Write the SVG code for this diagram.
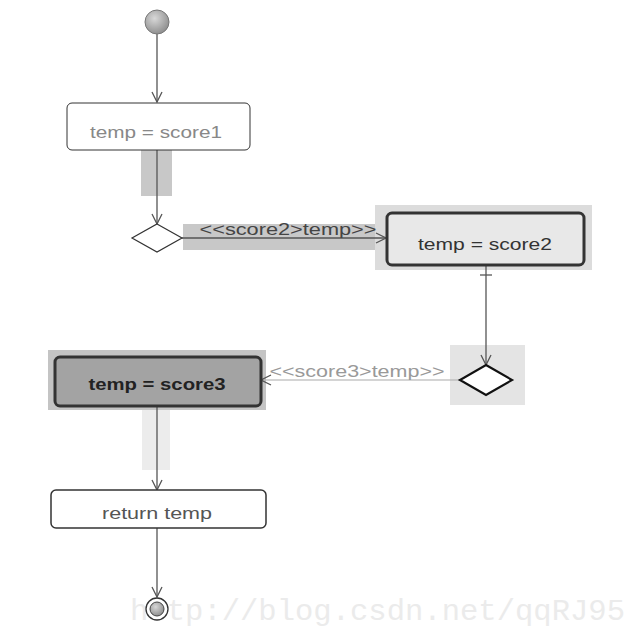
<svg xmlns="http://www.w3.org/2000/svg" width="640" height="640" viewBox="0 0 640 640">
<defs>
<radialGradient id="g1" cx="0.4" cy="0.35" r="0.7"><stop offset="0" stop-color="#d8d8d8"/><stop offset="1" stop-color="#8a8a8a"/></radialGradient>
<marker id="arr" viewBox="0 0 12 12" refX="11" refY="6" markerWidth="12" markerHeight="12" markerUnits="userSpaceOnUse" orient="auto"><path d="M1 1 L11 6 L1 11" fill="none" stroke="#555" stroke-width="1.3"/></marker>
</defs>
<style>
.box{stroke:#333;rx:5;ry:5}
.t{font-family:"Liberation Sans",Arial,sans-serif;font-size:16px;text-anchor:middle}
.ln{stroke:#555;stroke-width:1.3;fill:none}
.bg{fill:#c8c8c8}
</style>
<rect width="640" height="640" fill="#fff"/>
<text x="130" y="620" font-family="Liberation Mono,monospace" font-size="30" fill="#ebebeb" textLength="495" lengthAdjust="spacingAndGlyphs">http://blog.csdn.net/qqRJ95</text>
<g id="highlights">
<rect class="bg" x="141" y="150" width="31" height="46"/>
<rect class="bg" x="183" y="224" width="197" height="26"/>
<rect x="375" y="205" width="217" height="65" fill="#dcdcdc"/>
<rect x="450" y="345" width="75" height="60" fill="#e4e4e4"/>
<rect x="48" y="350" width="218" height="60" fill="#c4c4c4"/>
<rect x="142" y="410" width="28" height="60" fill="#ececec"/>
</g>
<g id="connectors">
<line class="ln" x1="157" y1="34" x2="157" y2="102" marker-end="url(#arr)"/>
<line class="ln" x1="157" y1="150" x2="157" y2="224" marker-end="url(#arr)"/>
<line class="ln" x1="182" y1="238" x2="386" y2="238" marker-end="url(#arr)"/>
<line class="ln" x1="486" y1="265" x2="486" y2="365" marker-end="url(#arr)"/>
<line class="ln" x1="480" y1="275" x2="492" y2="275"/>
<line x1="460" y1="380" x2="261" y2="380" stroke="#aaa" stroke-width="1.2" marker-end="url(#arr)"/>
<line class="ln" x1="157" y1="406" x2="157" y2="490" marker-end="url(#arr)"/>
<line class="ln" x1="157" y1="528" x2="157" y2="597" marker-end="url(#arr)"/>
<text class="t" x="288" y="235" font-size="14" fill="#444" textLength="177" lengthAdjust="spacingAndGlyphs">&lt;&lt;score2&gt;temp&gt;&gt;</text>
<text class="t" x="357" y="377" font-size="12" fill="#999" textLength="175" lengthAdjust="spacingAndGlyphs">&lt;&lt;score3&gt;temp&gt;&gt;</text>
</g>
<g id="start"><circle cx="157" cy="22" r="12" fill="url(#g1)" stroke="#777"/></g>
<g id="n1"><rect class="box" x="67" y="103" width="183" height="47" fill="#fff" stroke="#555"/><text class="t" x="156" y="138" fill="#888" textLength="132" lengthAdjust="spacingAndGlyphs">temp = score1</text></g>
<g id="d1"><polygon points="157,224 182,238 157,252 132,238" fill="#fff" stroke="#333" stroke-width="1.2"/></g>
<g id="n2"><rect class="box" x="387" y="213" width="197" height="52" fill="#e8e8e8" stroke-width="3"/><text class="t" x="485" y="250" fill="#333" textLength="134" lengthAdjust="spacingAndGlyphs">temp = score2</text></g>
<g id="d2"><polygon points="486,365 512,380 486,395 460,380" fill="#fff" stroke="#111" stroke-width="2.2"/></g>
<g id="n3"><rect class="box" x="55" y="357" width="206" height="49" fill="#a3a3a3" stroke="#111" stroke-width="3"/><text class="t" x="157" y="390" fill="#222" font-weight="bold" textLength="137" lengthAdjust="spacingAndGlyphs">temp = score3</text></g>
<g id="n4"><rect class="box" x="51" y="490" width="215" height="38" fill="#fff" stroke="#222" stroke-width="1.5"/><text class="t" x="157" y="519" fill="#555" textLength="110" lengthAdjust="spacingAndGlyphs">return temp</text></g>
<g id="end"><circle cx="157" cy="609" r="11" fill="#fff" stroke="#333" stroke-width="1.3"/><circle cx="157" cy="609" r="7" fill="url(#g1)" stroke="#444"/></g>
</svg>
